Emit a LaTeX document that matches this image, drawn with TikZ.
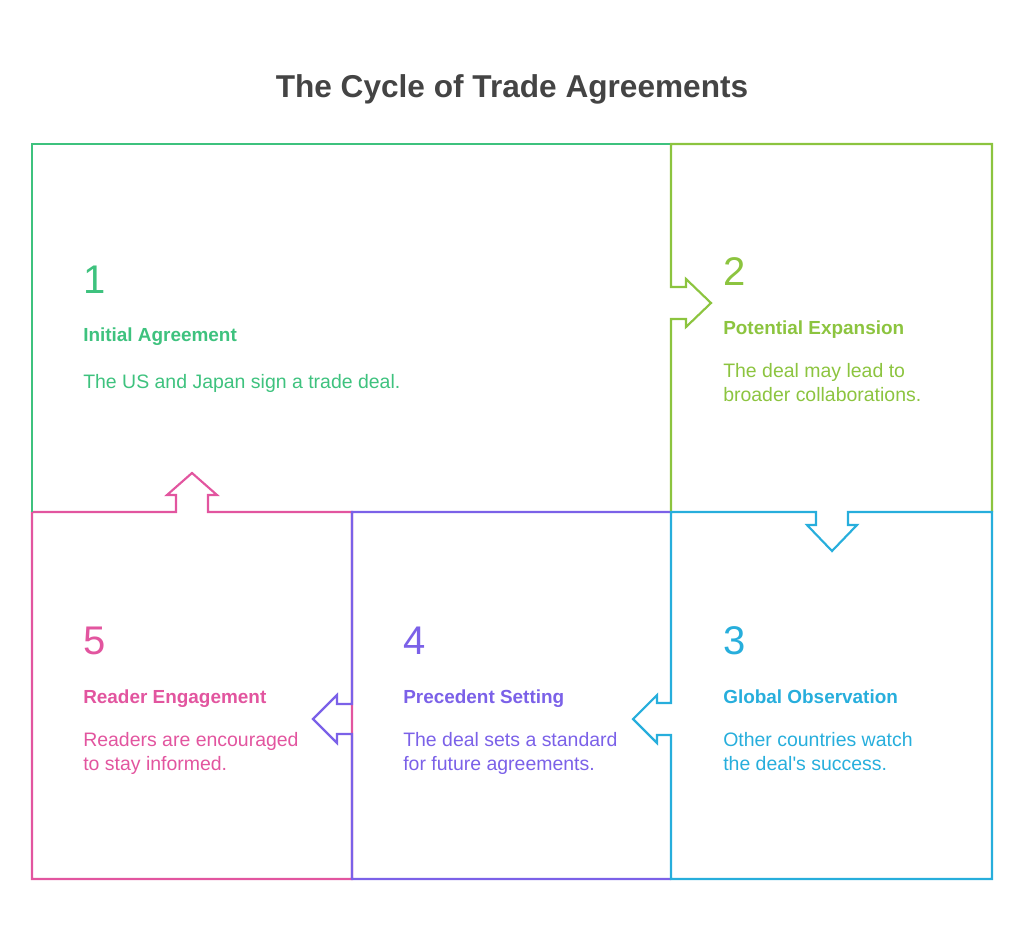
\documentclass[tikz,border=0pt]{standalone}
\usepackage{fontspec}
\setmainfont{Liberation Sans}
\definecolor{cgreen}{HTML}{3EC27E}
\definecolor{clime}{HTML}{8CC43F}
\definecolor{cblue}{HTML}{27AEDC}
\definecolor{cpurple}{HTML}{7B61E8}
\definecolor{cpink}{HTML}{E2559F}
\definecolor{ctitle}{HTML}{444444}
\begin{document}
\begin{tikzpicture}[x=0.75pt,y=-0.75pt,
  edge/.style={line width=1.6pt,line join=miter},
  num/.style={anchor=base west,inner sep=0pt,font=\fontsize{30}{30}\selectfont},
  head/.style={anchor=base west,inner sep=0pt,font=\bfseries\fontsize{14.2}{18}\selectfont},
  desc/.style={anchor=base west,inner sep=0pt,align=left,font=\fontsize{14.6}{18}\selectfont}]
\useasboundingbox (0,0) rectangle (1024,944);
% title
\node[anchor=base,inner sep=0pt,text=ctitle,font=\bfseries\fontsize{23.7}{28}\selectfont] (title) at (512,98) {The Cycle of Trade Agreements};
% box 5 (pink, full)
\draw[edge,cpink] (32,512) -- (176,512) -- (176,495) -- (167,495) -- (192,473) -- (217,495) -- (208,495) -- (208,512) -- (352,512) -- (352,879) -- (32,879) -- cycle;
% box 4 (purple)
\draw[edge,cpurple] (671,512) -- (352,512) -- (352,704) -- (337,704) -- (337,695) -- (313,719) -- (337,743) -- (337,734) -- (352,734) -- (352,879) -- (671,879);
% box 1 (green)
\draw[edge,cgreen] (671,144) -- (32,144) -- (32,512);
% box 2 (lime)
\draw[edge,clime] (671,512) -- (671,319) -- (686,319) -- (686,327) -- (711,303) -- (686,279) -- (686,287) -- (671,287) -- (671,144) -- (992,144) -- (992,512);
% box 3 (blue)
\draw[edge,cblue] (671,512) -- (816,512) -- (816,525) -- (807,525) -- (832,551) -- (857,525) -- (848,525) -- (848,512) -- (992,512) -- (992,879) -- (671,879) -- (671,735) -- (657,735) -- (657,743) -- (633,719) -- (657,695) -- (657,703) -- (671,703) -- cycle;
% texts box 1
\node[num,text=cgreen] (n1) at (83,294) {1};
\node[head,text=cgreen] (h1) at (83,342) {Initial Agreement};
\node[desc,text=cgreen] (d1) at (83,389) {The US and Japan sign a trade deal.};
% box 2
\node[num,text=clime] (n2) at (723,286) {2};
\node[head,text=clime] (h2) at (723,335) {Potential Expansion};
\node[desc,text=clime] (d2) at (723,402) {The deal may lead to\\broader collaborations.};
% box 3
\node[num,text=cblue] (n3) at (723,654) {3};
\node[head,text=cblue] (h3) at (723,703) {Global Observation};
\node[desc,text=cblue] (d3) at (723,770) {Other countries watch\\the deal\textquotesingle s success.};
% box 4
\node[num,text=cpurple] (n4) at (403,654) {4};
\node[head,text=cpurple] (h4) at (403,703) {Precedent Setting};
\node[desc,text=cpurple] (d4) at (403,770) {The deal sets a standard\\for future agreements.};
% box 5
\node[num,text=cpink] (n5) at (83,654) {5};
\node[head,text=cpink] (h5) at (83,703) {Reader Engagement};
\node[desc,text=cpink] (d5) at (83,770) {Readers are encouraged\\to stay informed.};
\end{tikzpicture}
\end{document}
